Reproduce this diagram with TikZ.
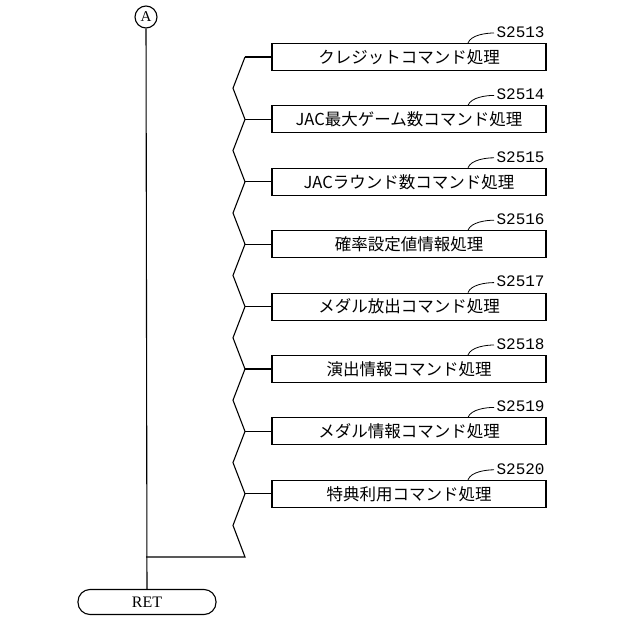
\documentclass[tikz,border=0pt]{standalone}
\usetikzlibrary{calc}
\usepackage{fontspec}
\setmainfont{Liberation Serif}
\newfontfamily\cjk{Noto Sans CJK JP}
\newfontfamily\lmono{Liberation Mono}
\begin{document}
\begin{tikzpicture}[x=1pt,y=-1pt,line width=1.1pt,
  proc/.style={draw,minimum width=274pt,minimum height=27pt,inner sep=0pt,font=\cjk\fontsize{16.5}{16.5}\selectfont},
  lbl/.style={font=\lmono\fontsize{16}{16}\selectfont,anchor=west,inner sep=0pt}]
\useasboundingbox (0,0) rectangle (640,618);
\node[draw,circle,minimum size=22pt,inner sep=0pt,font=\fontsize{15}{15}\selectfont] (A) at (146,17) {A};
\node[draw,rounded corners=12pt,minimum width=138pt,minimum height=25pt,inner sep=0pt,font=\fontsize{16}{16}\selectfont] (R) at (147,602) {RET};
\draw (A) -- (R);
\foreach \i/\t/\s in {0/クレジットコマンド処理/2513,1/JAC最大ゲーム数コマンド処理/2514,2/JACラウンド数コマンド処理/2515,3/確率設定値情報処理/2516,4/メダル放出コマンド処理/2517,5/演出情報コマンド処理/2518,6/メダル情報コマンド処理/2519,7/特典利用コマンド処理/2520}{
  \pgfmathsetmacro\yy{57+62.4*\i}
  \node[proc] (b\i) at (409,\yy) {\t};
  \node[lbl] (s\i) at (496,\yy-25) {S\s};
  \coordinate (t\i) at ($(b\i.north)+(59,0)$);
  \draw[line width=0.8pt] (t\i) .. controls +(3,-8) and +(-8,0) .. ($(s\i.west)+(-2,1)$);
  \coordinate (j\i) at (245,\yy);
  \draw (b\i.west) -- (j\i);
}
\foreach \i/\k in {0/1,1/2,2/3,3/4,4/5,5/6,6/7}{
  \draw (j\i) -- ($(j\i)!0.5!(j\k)+(-12,0)$) -- (j\k);
}
\coordinate (e) at (245,557);
\coordinate (m) at (146,557);
\draw (j7) -- ($(j7)!0.5!(e)+(-12,0)$) -- (e) -- (m);
\end{tikzpicture}
\end{document}
